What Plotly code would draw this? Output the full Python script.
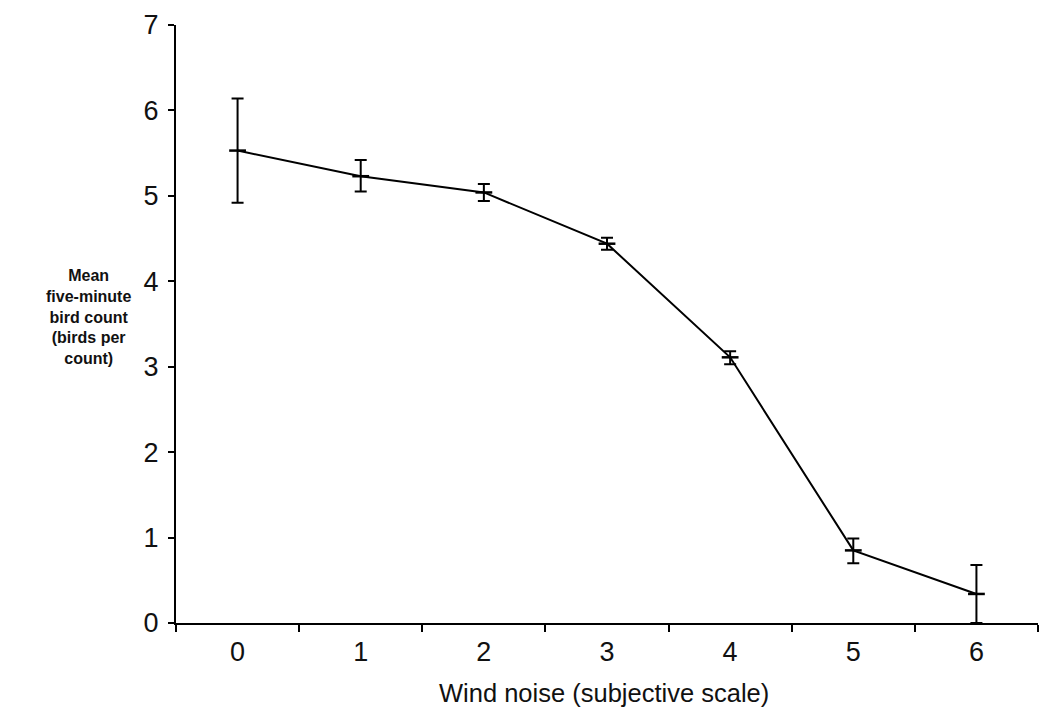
import plotly.graph_objects as go

wind_noise = ["0", "1", "2", "3", "4", "5", "6"]
mean_count = [5.53, 5.23, 5.04, 4.44, 3.11, 0.85, 0.34]
upper_err = [0.61, 0.19, 0.10, 0.07, 0.07, 0.14, 0.34]
lower_err = [0.61, 0.18, 0.10, 0.07, 0.08, 0.15, 0.34]

FONT = "Liberation Sans, Arial, Helvetica, sans-serif"

fig = go.Figure()
fig.add_trace(go.Scatter(
    x=wind_noise, y=mean_count,
    mode="lines+markers",
    line=dict(color="black", width=2),
    marker=dict(symbol="line-ew", size=12, line=dict(color="black", width=2.5)),
    error_y=dict(type="data", symmetric=False, array=upper_err, arrayminus=lower_err,
                 color="black", thickness=2, width=6),
    showlegend=False,
    cliponaxis=False,
))

fig.update_layout(
    width=1047, height=707,
    margin=dict(l=176, r=9, t=25, b=84),
    paper_bgcolor="white", plot_bgcolor="white",
    font=dict(family=FONT, color="black"),
    xaxis=dict(
        type="category",
        range=[-0.5, 6.5],
        tickson="boundaries",
        ticks="outside", ticklen=7, tickwidth=1.5, tickcolor="black",
        showline=True, linecolor="black", linewidth=2,
        showgrid=False, zeroline=False,
        tickfont=dict(size=27, family=FONT, color="#111"),
        ticklabelstandoff=4,
    ),
    yaxis=dict(
        range=[0, 7], tickvals=[0, 1, 2, 3, 4, 5, 6, 7],
        ticks="outside", ticklen=6, tickwidth=1.5, tickcolor="black",
        showline=True, linecolor="black", linewidth=2,
        showgrid=False, zeroline=False,
        tickfont=dict(size=27, family=FONT, color="#111"),
        ticklabelstandoff=4,
    ),
    annotations=[
        dict(text="<b>Mean<br>five-minute<br>bird count<br>(birds per<br>count)</b>",
             xref="paper", yref="paper", x=-0.102, y=(623 - 317) / 598,
             xanchor="center", yanchor="middle", showarrow=False,
             font=dict(size=16, family=FONT, color="#111"), align="center"),
        dict(text="Wind noise (subjective scale)",
             xref="paper", yref="paper", x=(604 - 176) / 862, y=(623 - 693) / 598,
             xanchor="center", yanchor="middle", showarrow=False,
             font=dict(size=25.5, family=FONT, color="#111")),
    ],
)

fig.write_html("out.html")
